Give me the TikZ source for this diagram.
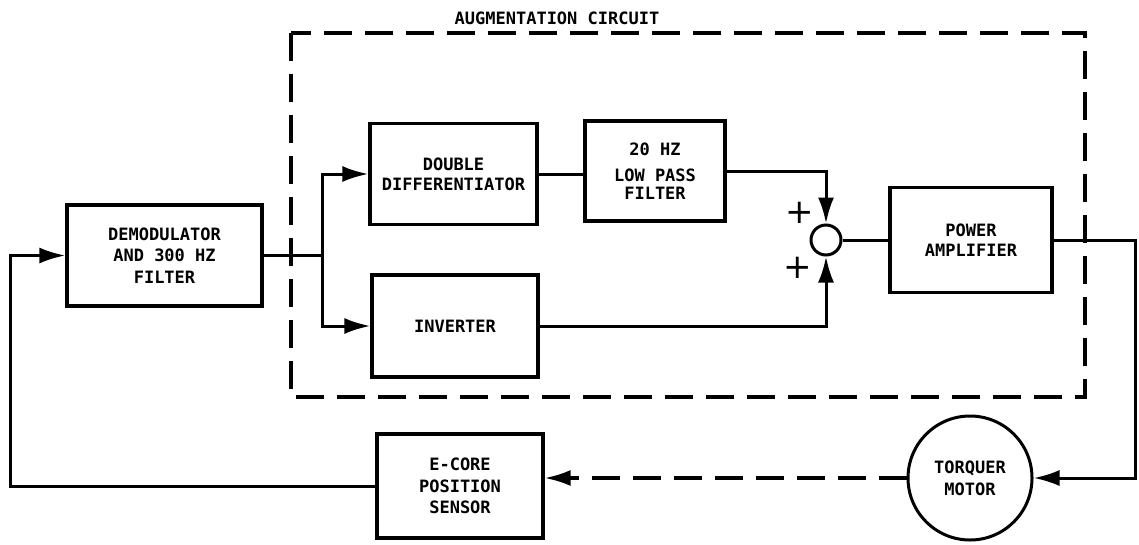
\documentclass[tikz,border=0pt]{standalone}
\usepackage{fontspec}
\newfontfamily\diafont{DejaVu Sans Mono}
\newfontfamily\plusfont{DejaVu Sans}
\usetikzlibrary{arrows.meta}
\begin{document}
\begin{tikzpicture}[x=1pt,y=-1pt,
  every node/.style={font=\diafont\bfseries\fontsize{17}{21.5}\selectfont},
  blk/.style={draw,line width=3.2pt,inner sep=0pt,align=center},
  conn/.style={line width=3pt},
  arr/.style={conn,-{Latex[length=26pt,width=16pt]}},
  dashline/.style={line width=3.2pt,dash pattern=on 28pt off 13pt},
  plussign/.style={font=\plusfont\fontsize{34}{34}\selectfont,inner sep=0pt}
]
\useasboundingbox (0,0) rectangle (1139,544);
% augmentation circuit frame
\draw[dashline] (291,33) rectangle (1085,397);
\node (title) at (557,18) {AUGMENTATION CIRCUIT};
% blocks
\node[blk,minimum width=195pt,minimum height=101pt] (demod) at (164.5,255.5)
  {DEMODULATOR\\AND 300 HZ\\FILTER};
\node[blk,minimum width=167pt,minimum height=101pt,font=\diafont\bfseries\fontsize{17}{20}\selectfont] (dd) at (453.5,174)
  {DOUBLE\\DIFFERENTIATOR};
\node[blk,minimum width=140pt,minimum height=100pt] (lpf) at (655,171)
  {20 HZ\\[5pt]LOW PASS\\[-3.5pt]FILTER};
\node[blk,minimum width=166pt,minimum height=102pt] (inv) at (455,326)
  {INVERTER};
\node[circle,draw,line width=3pt,minimum size=30pt,inner sep=0pt] (sum) at (826,240) {};
\node[blk,minimum width=162pt,minimum height=105pt,font=\diafont\bfseries\fontsize{17}{20}\selectfont] (pa) at (971,240)
  {POWER\\AMPLIFIER};
\node[blk,minimum width=166pt,minimum height=104pt] (ecore) at (460,486)
  {E-CORE\\POSITION\\SENSOR};
\node[circle,draw,line width=3pt,minimum size=124pt,inner sep=0pt,align=center,font=\diafont\bfseries\fontsize{17}{22}\selectfont] (tm) at (970,478)
  {TORQUER\\MOTOR};
% plus signs
\node[plussign] (p1) at (800,213) {+};
\node[plussign] (p2) at (798,268) {+};
% helper coordinates
\coordinate (br) at (322,255.5);
\coordinate (fbl) at (10,486);
\coordinate (outc) at (1135,240);
% connectors
\draw[arr] (ecore.west) -- (fbl) |- (demod.west);
\draw[conn] (demod.east) -- (br);
\draw[arr] (br) |- (dd.west);
\draw[arr] (br) |- (inv.west);
\draw[conn] (dd.east) -- (dd.east -| lpf.west);
\draw[arr] (lpf.east) -| (sum.north);
\draw[arr] (inv.east) -| (sum.south);
\draw[conn] (sum.east) -- (pa.west);
\draw[arr] (pa.east) -- (outc) |- (tm.east);
\draw[dashline,-{Latex[length=26pt,width=16pt]}] (tm.west) -- (tm.west -| ecore.east);
\end{tikzpicture}
\end{document}
